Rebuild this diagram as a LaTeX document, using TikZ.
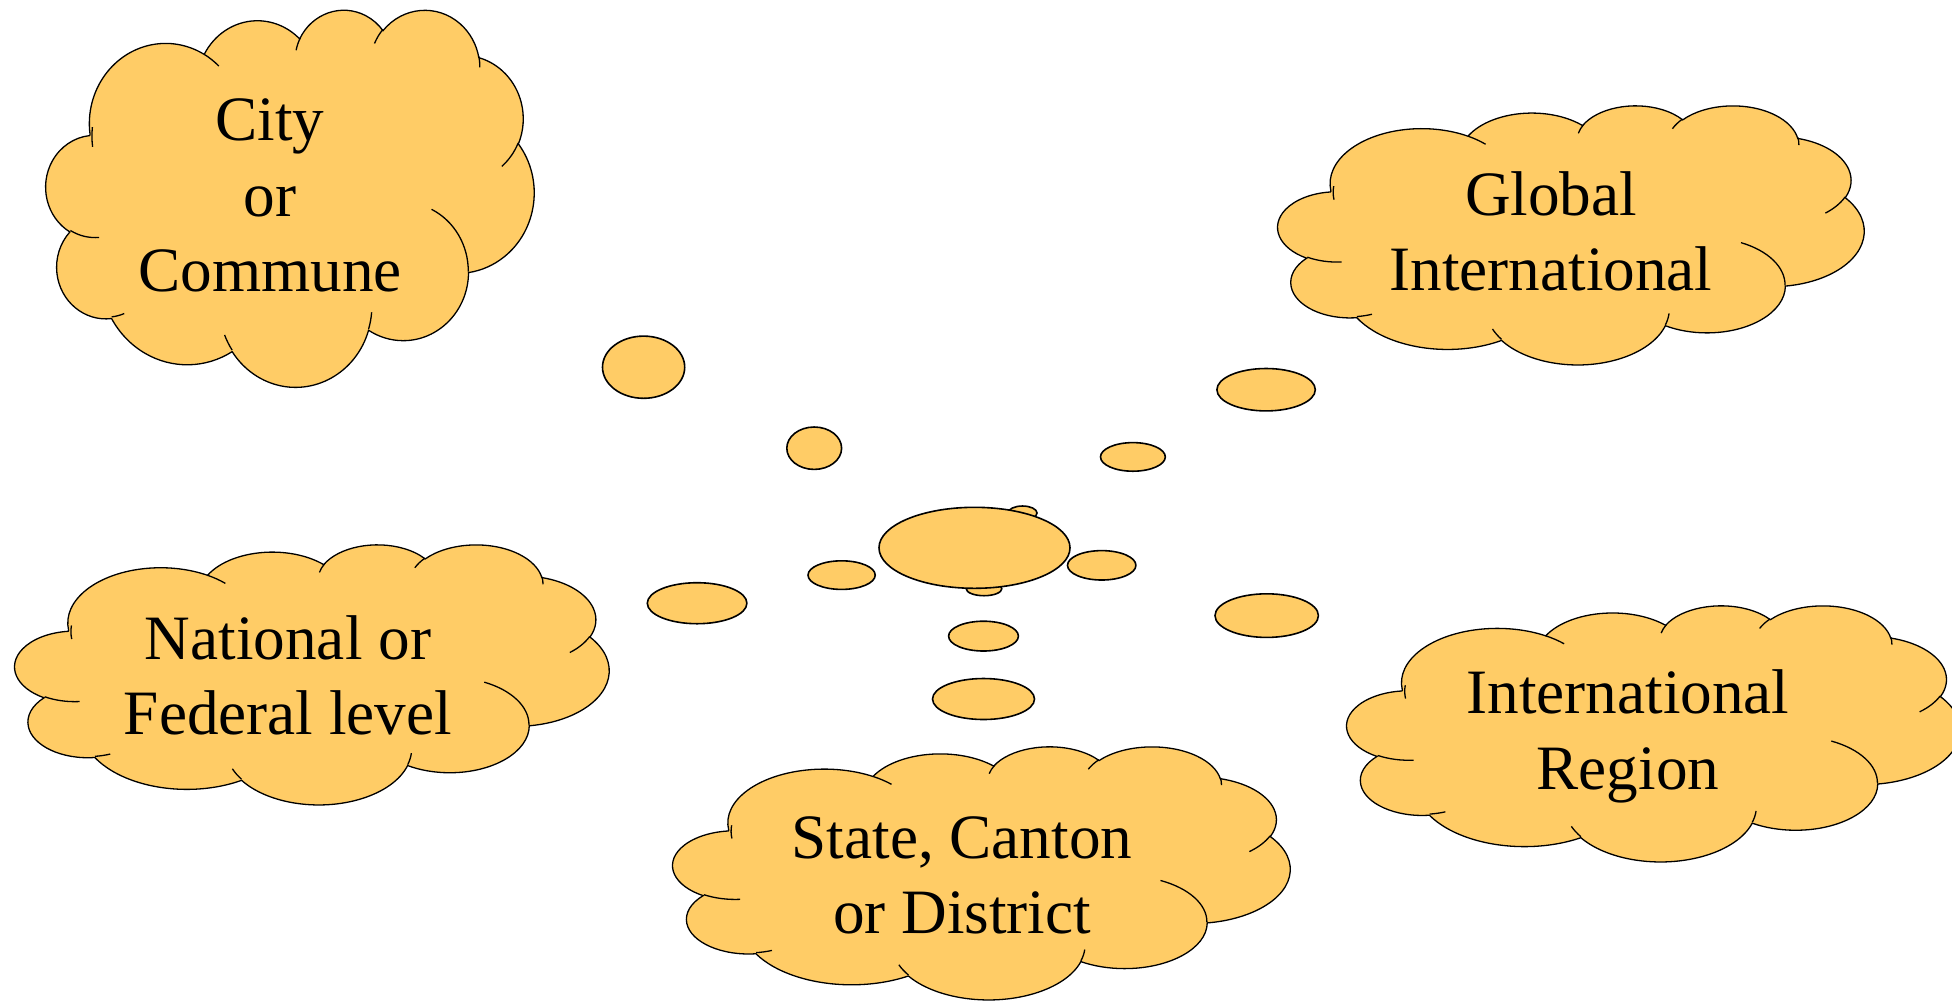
\documentclass[tikz,border=0pt]{standalone}
\usepackage{fontspec}
\setmainfont{Liberation Serif}
\usetikzlibrary{shapes.geometric}

\definecolor{puff}{HTML}{FFCC66}

% one lobe of the cloud; the angles are the visible ones, turned into ellipse parameters
\newcommand\puffarc[4]{%
  arc[x radius=#1, y radius=#2,
      start angle={atan2(#1*sin(#3),#2*cos(#3))},
      delta angle={mod(atan2(#1*sin(#3+#4),#2*cos(#3+#4))-atan2(#1*sin(#3),#2*cos(#3))+720,360)}]}

% cloud drawn in a 43.2 x 43.2 box, y pointing down
\newcommand\cloudoutline{%
  (3.900,14.370)
  \puffarc{6.753}{9.190}{-190.4875}{123.7805}
  \puffarc{5.333}{7.267}{-144.1024}{89.9452}
  \puffarc{4.365}{5.945}{-145.8079}{99.7230}
  \puffarc{4.857}{6.595}{-130.9861}{117.2417}
  \puffarc{5.333}{7.273}{-78.7089}{109.0269}
  \puffarc{6.775}{9.220}{-46.2673}{130.2690}
  \puffarc{5.785}{7.867}{0.6250}{114.0333}
  \puffarc{6.752}{9.215}{22.4516}{115.1726}
  \puffarc{7.720}{10.543}{66.2426}{75.7110}
  \puffarc{4.360}{5.918}{-274.9421}{146.7356}
  \puffarc{4.345}{5.945}{-246.8285}{152.5189}
  -- cycle}
\newcommand\cloudcreases{%
  (4.693,26.177) \puffarc{4.345}{5.945}{86.7420}{26.4295}
  (6.928,34.899) \puffarc{4.360}{5.918}{73.6105}{11.4475}
  (16.478,39.090) \puffarc{6.752}{9.215}{137.6242}{14.0811}
  (28.827,34.751) \puffarc{6.752}{9.215}{6.4533}{15.9984}
  (34.129,22.954) \puffarc{5.785}{7.867}{-70.2924}{70.9174}
  (41.798,15.354) \puffarc{5.333}{7.273}{30.3180}{27.7515}
  (38.324,5.426) \puffarc{4.857}{6.595}{-13.7443}{14.8589}
  (29.078,3.952) \puffarc{4.857}{6.595}{-149.1815}{18.1954}
  (22.141,4.720) \puffarc{4.365}{5.945}{-163.4943}{17.6864}
  (14.000,5.192) \puffarc{6.753}{9.190}{-66.7070}{12.3194}
  (4.127,15.789) \puffarc{6.753}{9.190}{-190.4875}{19.0849}}

\tikzset{
  cloudbox/.style n args={4}{shift={(#1,#2)},x=1cm,y=1cm,xscale=#3/2458.32,yscale=-#4/2458.32},
  puffy/.style={fill=puff,draw=black,line width=0.65pt},
  crease/.style={draw=black,line width=0.65pt},
  bubble/.style={ellipse,fill=puff,draw=black,line width=0.8pt,inner sep=0pt},
  level/.style={align=center,anchor=base,font=\fontsize{31.6}{37.7}\selectfont}
}

\begin{document}
\begin{tikzpicture}[x=0.5pt,y=-0.5pt]
  \useasboundingbox (0,0) rectangle (1952,1003);
  \clip (0,0) rectangle (1952,1003);

  \begin{scope}[cloudbox={46}{9}{488}{377}]
    \path[puffy] \cloudoutline; \path[crease] \cloudcreases;
  \end{scope}
  \begin{scope}[cloudbox={1278}{105}{586}{259}]
    \path[puffy] \cloudoutline; \path[crease] \cloudcreases;
  \end{scope}
  \begin{scope}[cloudbox={15}{544}{594}{260}]
    \path[puffy] \cloudoutline; \path[crease] \cloudcreases;
  \end{scope}
  \begin{scope}[cloudbox={1347}{605}{613}{256}]
    \path[puffy] \cloudoutline; \path[crease] \cloudcreases;
  \end{scope}
  \begin{scope}[cloudbox={673}{746}{617}{253}]
    \path[puffy] \cloudoutline; \path[crease] \cloudcreases;
  \end{scope}

  % anchored on the baseline of the last line
  \node[level] (city) at (270,291.7) {City\\or\\Commune};
  \node[level] (global) at (1551,290.7) {Global\\International};
  \node[level] (national) at (288,734.5) {National or\\Federal level};
  \node[level] (region) at (1628,789.3) {International\\Region};
  \node[level] (state) at (962,933.7) {State, Canton\\or District};

  \node[bubble,minimum width=41.1pt,minimum height=31.1pt] (city-b1) at (643.6,367.2) {};
  \node[bubble,minimum width=27.4pt,minimum height=21.2pt] (city-b2) at (814.2,448.2) {};
  \node[bubble,minimum width=49.2pt,minimum height=21.2pt] (global-b1) at (1266.1,389.7) {};
  \node[bubble,minimum width=32.4pt,minimum height=14.3pt] (global-b2) at (1132.9,456.9) {};
  \node[bubble,minimum width=14.5pt,minimum height=7pt] (global-b3) at (1022.5,513) {};
  \node[bubble,minimum width=49.8pt,minimum height=20.5pt] (national-b1) at (697.1,603.2) {};
  \node[bubble,minimum width=33.6pt,minimum height=14.3pt] (national-b2) at (841.6,575.1) {};
  \node[bubble,minimum width=51.7pt,minimum height=21.8pt] (region-b1) at (1266.7,615.6) {};
  \node[bubble,minimum width=34.2pt,minimum height=14.7pt] (region-b2) at (1101.7,565.3) {};
  \node[bubble,minimum width=51pt,minimum height=20.5pt] (state-b1) at (983.5,699) {};
  \node[bubble,minimum width=34.9pt,minimum height=14.9pt] (state-b2) at (983.5,636.1) {};
  \node[bubble,minimum width=17.8pt,minimum height=7pt] (state-b3) at (984,588.7) {};

  \node[bubble,minimum width=95.5pt,minimum height=40.5pt] (hub) at (974.5,547.8) {};
\end{tikzpicture}
\end{document}
